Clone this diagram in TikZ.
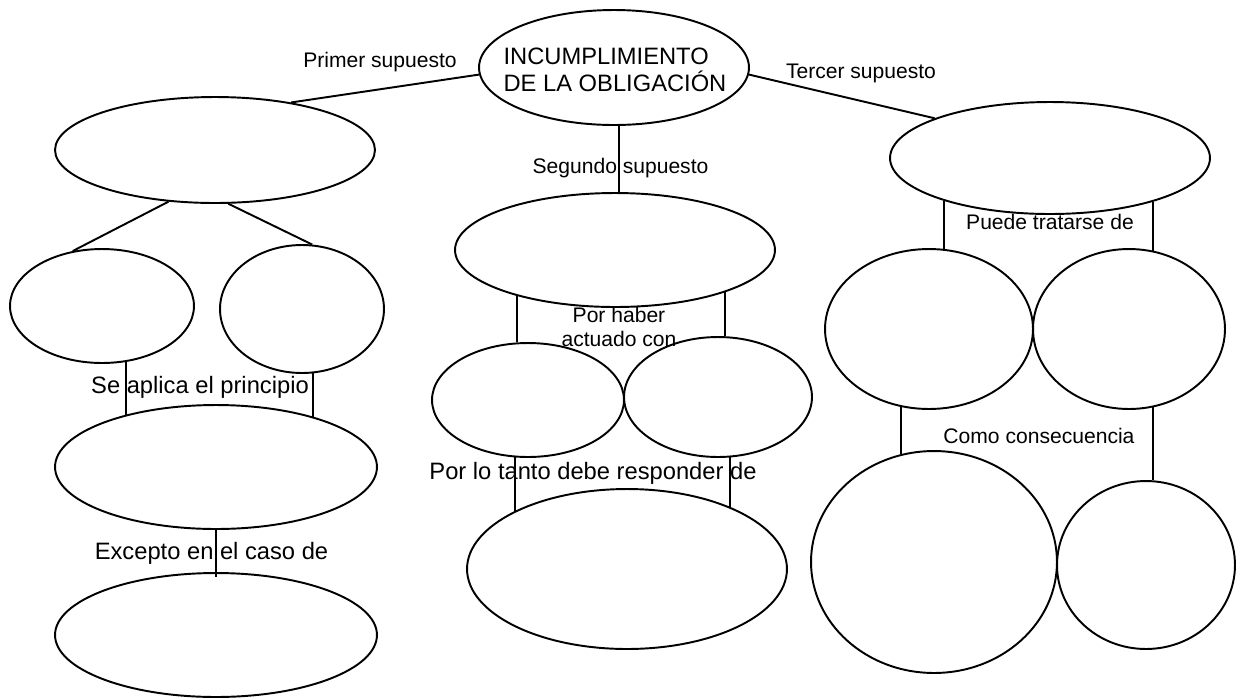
\documentclass[tikz,border=0pt]{standalone}
\usepackage{fontspec}
\setmainfont{Liberation Sans}
\usetikzlibrary{shapes.geometric}
\begin{document}
\begin{tikzpicture}[x=0.02cm,y=-0.02cm,line width=1.1pt,
  oval/.style={draw,ellipse,inner sep=0pt},
  smalltxt/.style={font=\fontsize{12}{13.6}\selectfont,inner sep=0pt,align=center},
  bigtxt/.style={font=\fontsize{13.5}{15.3}\selectfont,inner sep=0pt}]
\useasboundingbox (0,0) rectangle (1242,698);
% ellipses
\node[oval,minimum width=5.4cm,minimum height=2.3cm] (T) at (614,67.5) {};
\node[oval,minimum width=6.4cm,minimum height=2.12cm] (A) at (215,150) {};
\node[oval,minimum width=3.68cm,minimum height=2.28cm] (A1) at (102,306) {};
\node[oval,minimum width=3.28cm,minimum height=2.56cm] (A2) at (302,309) {};
\node[oval,minimum width=6.44cm,minimum height=2.48cm] (A3) at (216,467) {};
\node[oval,minimum width=6.44cm,minimum height=2.48cm] (A4) at (216,635) {};
\node[oval,minimum width=6.4cm,minimum height=2.28cm] (B) at (615,250) {};
\node[oval,minimum width=3.84cm,minimum height=2.28cm] (B1) at (528,400) {};
\node[oval,minimum width=3.76cm,minimum height=2.4cm] (B2) at (718,397) {};
\node[oval,minimum width=6.4cm,minimum height=3.2cm] (B3) at (627,569) {};
\node[oval,minimum width=6.4cm,minimum height=2.24cm] (C) at (1050,158) {};
\node[oval,minimum width=4.16cm,minimum height=3.2cm] (C1) at (929,329) {};
\node[oval,minimum width=3.84cm,minimum height=3.2cm] (C2) at (1129,329) {};
\node[oval,minimum width=4.92cm,minimum height=4.44cm] (C3) at (934,562) {};
\node[oval,minimum width=3.56cm,minimum height=3.36cm] (C4) at (1146,565) {};
% texts
\node[bigtxt,align=left] (Tt) at (615,70) {INCUMPLIMIENTO\\DE LA OBLIGACIÓN};
\node[smalltxt,anchor=base] (l1) at (380,67) {Primer supuesto};
\node[smalltxt,anchor=base] (l2) at (861,78) {Tercer supuesto};
\node[smalltxt,anchor=base] (l3) at (620.5,173) {Segundo supuesto};
\node[bigtxt,anchor=base] (l4) at (200,393) {Se aplica el principio};
\node[bigtxt,anchor=base] (l5) at (211.5,559) {Excepto en el caso de};
\node[smalltxt] (l6) at (619,327) {Por haber\\actuado con};
\node[bigtxt,anchor=base] (l7) at (593,479) {Por lo tanto debe responder de};
\node[smalltxt,anchor=base] (l8) at (1050,229) {Puede tratarse de};
\node[smalltxt,anchor=base] (l9) at (1039,443) {Como consecuencia};
% connectors
\draw (T.183) -- (A.32);
\draw (T.357) -- (C.161);
\draw (T.275) -- (T.275 |- B.86);
\draw (A.228) -- (A1.118);
\draw (A.284) -- (A2.81);
\draw (A1.293) -- (A1.293 |- A3.151);
\draw (A2.280) -- (A2.280 |- A3.27);
\draw[shorten >=-0.1cm] (A3.270) -- (A4.90);
\draw (B.205) -- (B.205 |- B1.101);
\draw (B.339) -- (B.339 |- B2.84);
\draw (B1.257) -- (B1.257 |- B3.153);
\draw (B2.281) -- (B2.281 |- B3.31);
\draw (C.202) -- (C.202 |- C1.78.5);
\draw (C.337) -- (C.337 |- C2.73.5);
\draw (C1.250) -- (C1.250 |- C3.107);
\draw (C2.287) -- (C2.287 |- C4.85);
\end{tikzpicture}
\end{document}
